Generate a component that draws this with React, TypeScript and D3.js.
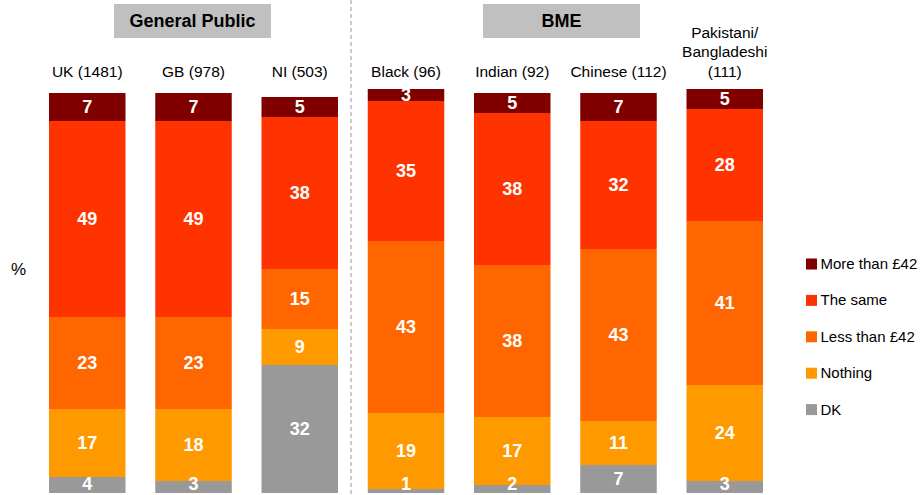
import React from "react";
import * as d3 from "d3";

const categories = ["UK (1481)", "GB (978)", "NI (503)", "Black (96)", "Indian (92)", "Chinese (112)", "Pakistani/\nBangladeshi\n(111)"];
const seriesNames = ["DK", "Nothing", "Less than £42", "The same", "More than £42"];
const dk = [4, 3, 32, 1, 2, 7, 3];
const nothing = [17, 18, 9, 19, 17, 11, 24];
const lessThan = [23, 23, 15, 43, 38, 43, 41];
const theSame = [49, 49, 38, 35, 38, 32, 28];
const moreThan = [7, 7, 5, 3, 5, 7, 5];
const colors = ["#999999", "#FF9900", "#FF6600", "#FF3300", "#800000"];
const groups = [
  { name: "General Public", cx: 192.5 },
  { name: "BME", cx: 561.5 },
];

const W = 922;
const H = 495;
const FONT = "'Liberation Sans', Arial, sans-serif";

export default function App() {
  const series = [dk, nothing, lessThan, theSame, moreThan];
  const x = d3.scaleBand<string>().domain(categories).range([49, 763]).paddingInner(0.28).paddingOuter(0);
  const y = d3.scaleLinear().domain([0, 100]).range([493, 93]);
  const table = categories.map((c, i) => {
    const row: any = { cat: c };
    seriesNames.forEach((s, k) => (row[s] = series[k][i]));
    return row;
  });
  const stacked = d3.stack<any>().keys(seriesNames)(table);
  const legendOrder = [4, 3, 2, 1, 0];

  return (
    <svg width={W} height={H} style={{ position: "absolute", left: 0, top: 0, background: "#fff" }} fontFamily={FONT}>
      <rect x={0} y={0} width={W} height={H} fill="#fff" />
      <line x1={351} x2={351} y1={0} y2={H} stroke="#bbbbbb" strokeWidth={1.5} strokeDasharray="4,3" />
      {groups.map((g) => (
        <g key={g.name}>
          <rect x={g.cx - 78.5} y={4} width={157} height={34} fill="#c0c0c0" />
          <text x={g.cx} y={21} textAnchor="middle" dominantBaseline="central" fontWeight="bold" fontSize={18} fill="#000">
            {g.name}
          </text>
        </g>
      ))}
      {categories.map((c) => {
        const lines = c.split("\n");
        const cx = x(c)! + x.bandwidth() / 2;
        return (
          <text key={c} textAnchor="middle" fontSize={15.5} fill="#000">
            {lines.map((l, j) => (
              <tspan key={j} x={cx} y={71 - (lines.length - 1 - j) * 19.5} dominantBaseline="central">
                {l}
              </tspan>
            ))}
          </text>
        );
      })}
      {stacked.map((s, k) => (
        <g key={s.key}>
          {s.map((d, i) => (
            <rect
              key={i}
              x={x(categories[i])!}
              y={y(d[1])}
              width={x.bandwidth()}
              height={y(d[0]) - y(d[1])}
              fill={colors[k]}
            />
          ))}
        </g>
      ))}
      {stacked.map((s, k) => (
        <g key={"l" + s.key}>
          {s.map((d, i) => {
            const cy = Math.min((y(d[0]) + y(d[1])) / 2, 484);
            return (
              <text
                key={i}
                x={x(categories[i])! + x.bandwidth() / 2}
                y={cy}
                textAnchor="middle"
                dominantBaseline="central"
                fontWeight="bold"
                fontSize={18}
                fill="#fff"
              >
                {d[1] - d[0]}
              </text>
            );
          })}
        </g>
      ))}
      <text x={18.5} y={269} textAnchor="middle" dominantBaseline="central" fontSize={17} fill="#000">
        %
      </text>
      {legendOrder.map((k, j) => (
        <g key={"lg" + k} transform={`translate(806, ${258.5 + j * 36.4})`}>
          <rect x={0} y={0} width={11} height={11} fill={colors[k]} />
          <text x={14.5} y={5} dominantBaseline="central" fontSize={15} fill="#000">
            {seriesNames[k]}
          </text>
        </g>
      ))}
    </svg>
  );
}
